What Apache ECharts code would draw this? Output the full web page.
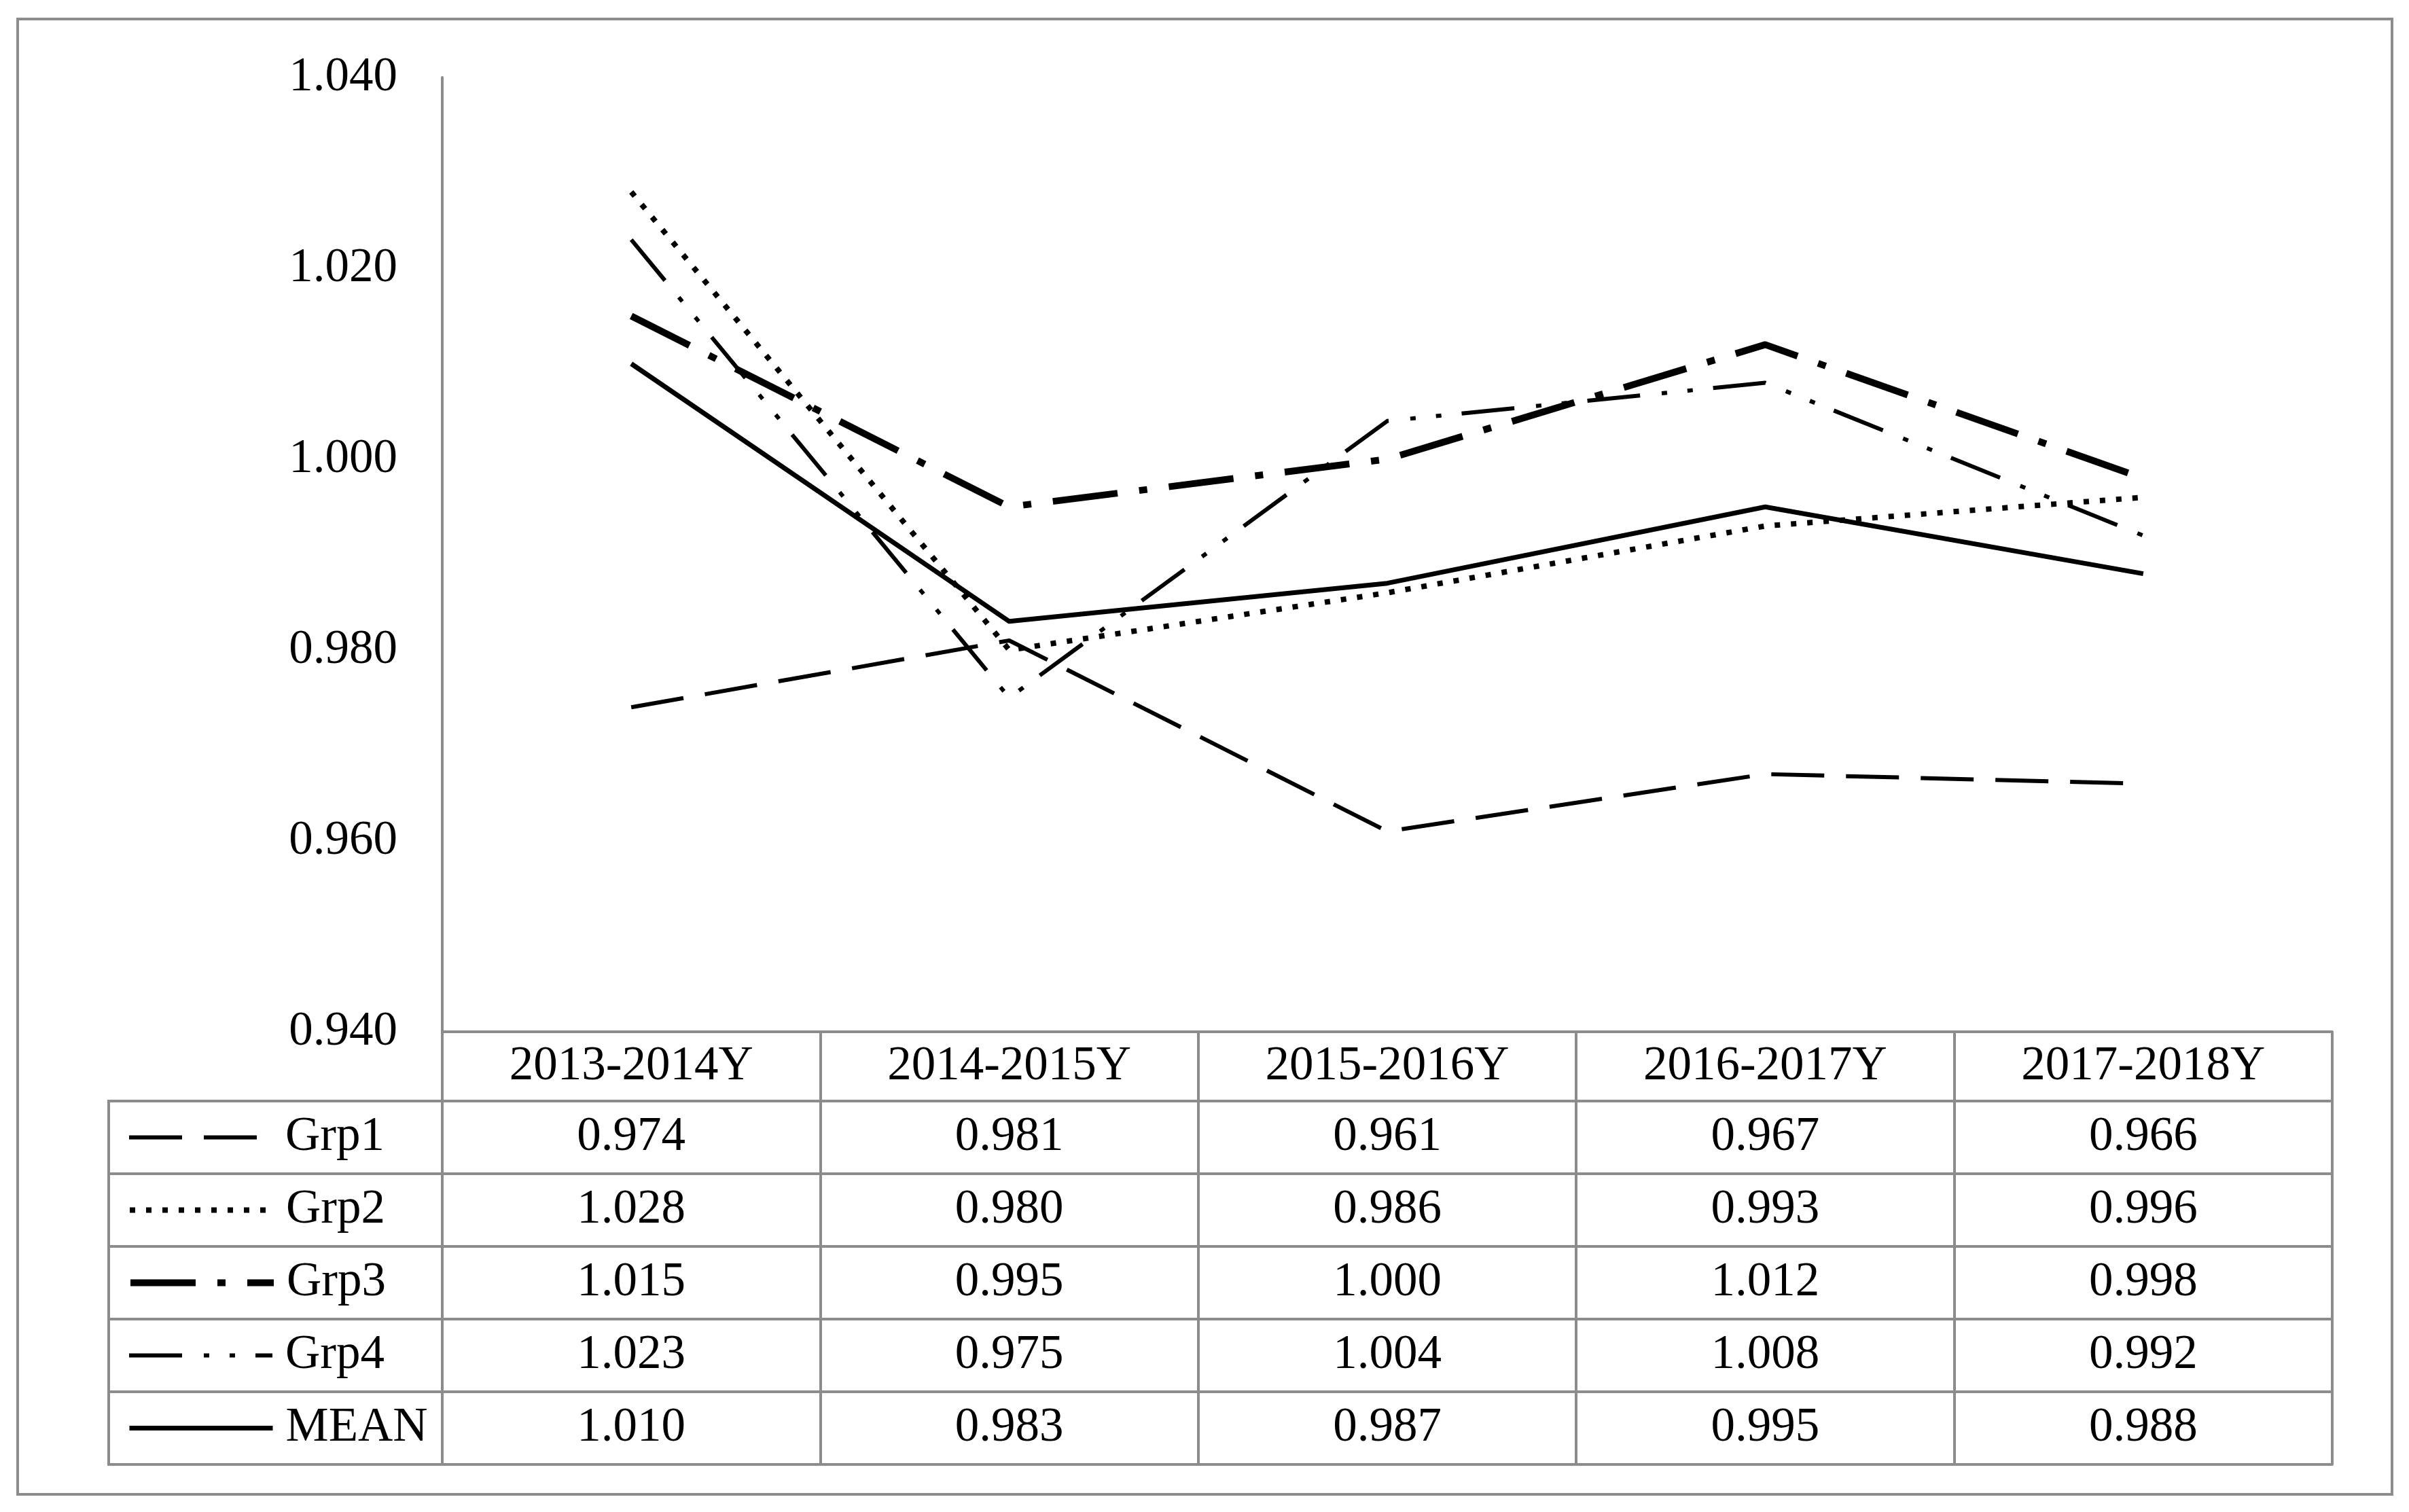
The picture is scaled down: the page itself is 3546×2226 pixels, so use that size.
<!DOCTYPE html>
<html>
<head>
<meta charset="utf-8">
<script src="https://cdn.jsdelivr.net/npm/echarts@6/dist/echarts.min.js"></script>
<style>
  html, body { margin: 0; padding: 0; background: #fff; }
  #chart { width: 3546px; height: 2226px; }
</style>
</head>
<body>
<div id="chart"></div>
<script>
const categories = ["2013-2014Y", "2014-2015Y", "2015-2016Y", "2016-2017Y", "2017-2018Y"];
const grp1 = [0.974, 0.981, 0.961, 0.967, 0.966];
const grp2 = [1.028, 0.980, 0.986, 0.993, 0.996];
const grp3 = [1.015, 0.995, 1.000, 1.012, 0.998];
const grp4 = [1.023, 0.975, 1.004, 1.008, 0.992];
const mean = [1.010, 0.983, 0.987, 0.995, 0.988];
const seriesNames = ["Grp1", "Grp2", "Grp3", "Grp4", "MEAN"];
const yMin = 0.94, yMax = 1.04, yStep = 0.02;

const rows = [grp1, grp2, grp3, grp4, mean];
const FONT = "'Liberation Serif', 'Times New Roman', serif";
const GRAY = "#8c8c8c";
const FS = 71;

// plot area and table geometry
const plotLeft = 651, plotRight = 3433, plotTop = 114, plotBottom = 1519;
const headH = 102, rowH = 107;
const tableLeft = 160;

// line looks, same order as seriesNames
const styles = [
  { width: 6, type: [78, 32] },
  { width: 8, type: [8, 16] },
  { width: 10, type: [96, 32, 12, 32] },
  { width: 6, type: [78, 32, 8, 30, 8, 30] },
  { width: 7, type: "solid" }
];

const chart = echarts.init(document.getElementById("chart"));

const xAxes = [{
  type: "category",
  data: categories,
  boundaryGap: true,
  position: "bottom",
  axisLine: { lineStyle: { color: GRAY, width: 4 } },
  axisTick: { show: true, interval: 0, length: headH + rowH * 5, lineStyle: { color: GRAY, width: 4 } },
  axisLabel: { interval: 0, margin: headH / 2, verticalAlign: "middle", color: "#000", fontFamily: FONT, fontSize: FS }
}];
// one axis per table row: line on top of the row, values as labels
rows.forEach((vals, r) => {
  xAxes.push({
    type: "category",
    data: categories,
    boundaryGap: true,
    position: "bottom",
    offset: headH + rowH * r,
    axisLine: { lineStyle: { color: GRAY, width: 4 } },
    axisTick: { show: false },
    axisLabel: {
      interval: 0, margin: rowH / 2, verticalAlign: "middle",
      color: "#000", fontFamily: FONT, fontSize: FS,
      formatter: (v, i) => vals[i].toFixed(3)
    }
  });
});
xAxes.push({
  type: "category",
  data: categories,
  boundaryGap: true,
  position: "bottom",
  offset: headH + rowH * 5,
  axisLine: { lineStyle: { color: GRAY, width: 4 } },
  axisTick: { show: false },
  axisLabel: { show: false }
});

const legendCells = seriesNames.map((n, i) => ({
  type: "rect",
  shape: { x: tableLeft, y: plotBottom + headH + rowH * i, width: plotLeft - tableLeft, height: rowH },
  style: { fill: null, stroke: GRAY, lineWidth: 4 },
  z: 1
}));

// one legend per table row so each key sits in its own cell
const legends = seriesNames.map((n, i) => ({
  orient: "horizontal",
  left: 187,
  top: plotBottom + headH + rowH * i + rowH / 2 - FS / 2,
  itemWidth: 211,
  itemHeight: 20,
  padding: 0,
  selectedMode: false,
  itemStyle: { opacity: 0 },
  textStyle: { color: "#000", fontFamily: FONT, fontSize: FS, lineHeight: FS, padding: [0, 0, 0, 14] },
  data: [{
    name: n,
    lineStyle: { width: styles[i].width, type: styles[i].type, cap: "butt", color: "#000", opacity: 1 }
  }]
}));

chart.setOption({
  animation: false,
  backgroundColor: "#fff",
  grid: {
    left: plotLeft,
    right: 3546 - plotRight,
    top: plotTop,
    bottom: 2226 - plotBottom
  },
  legend: legends,
  xAxis: xAxes,
  yAxis: {
    type: "value",
    min: yMin,
    max: yMax,
    interval: yStep,
    axisLine: { show: true, lineStyle: { color: GRAY, width: 4 } },
    axisTick: { show: false },
    splitLine: { show: false },
    axisLabel: {
      margin: 66,
      color: "#000",
      fontFamily: FONT,
      fontSize: FS,
      formatter: v => v.toFixed(3)
    }
  },
  series: rows.map((vals, i) => ({
    name: seriesNames[i],
    type: "line",
    data: vals,
    symbol: "none",
    silent: true,
    itemStyle: { color: "#000" },
    lineStyle: { color: "#000", width: styles[i].width, type: styles[i].type, cap: "butt", join: "round" },
    z: 3 + i
  })),
  graphic: [
    {
      type: "rect",
      shape: { x: 26, y: 28, width: 3495, height: 2172 },
      style: { fill: null, stroke: GRAY, lineWidth: 4 },
      z: 0
    }
  ].concat(legendCells)
});
</script>
</body>
</html>
